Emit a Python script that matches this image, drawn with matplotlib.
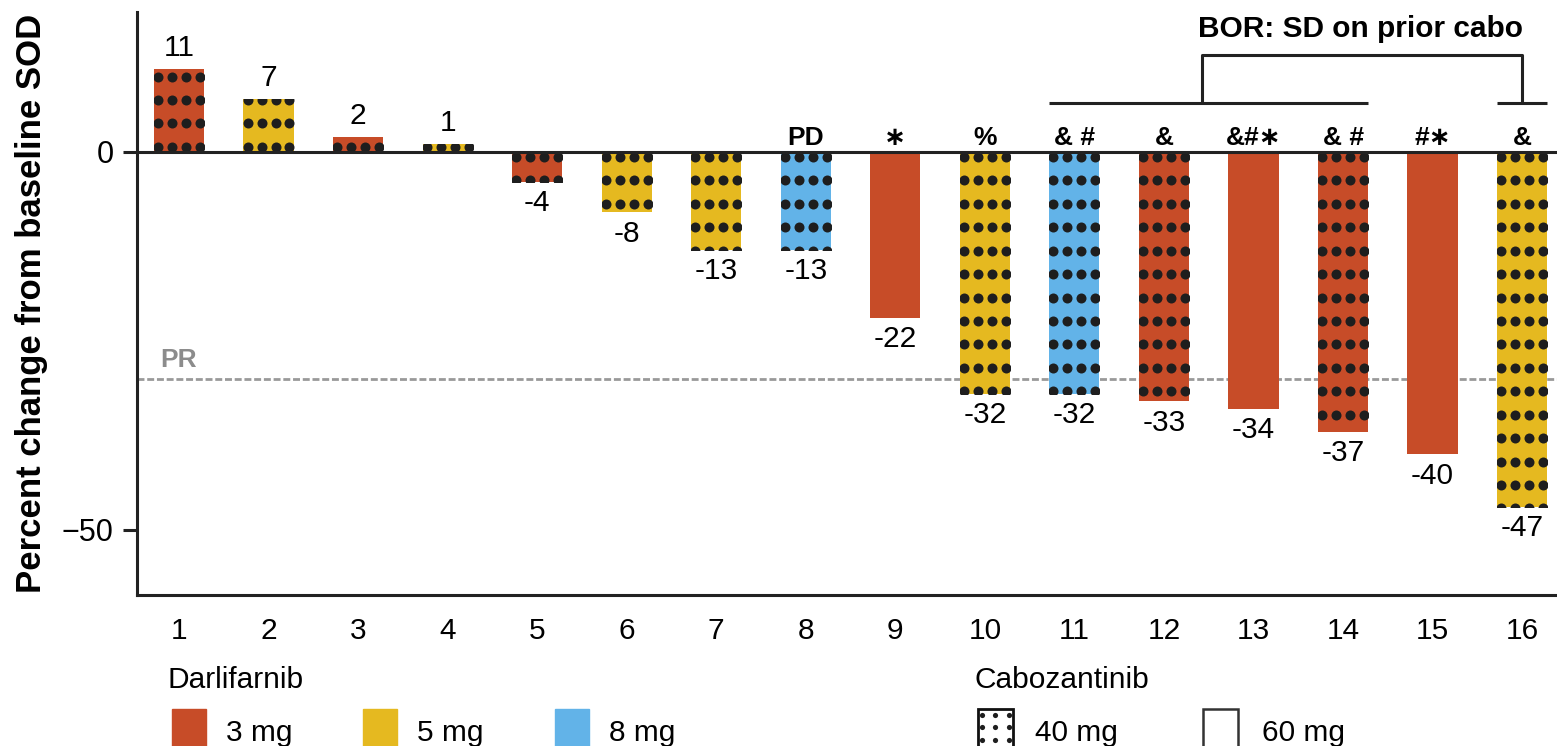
import matplotlib.pyplot as plt
from matplotlib.patches import Rectangle

plt.rcParams['font.family'] = ['Liberation Sans', 'DejaVu Sans']

# data
patients = list(range(1, 17))
change = [11, 7, 2, 1, -4, -8, -13, -13, -22, -32, -32, -33, -34, -37, -40, -47]
dose_mg = [3, 5, 3, 5, 3, 5, 5, 8, 3, 5, 8, 3, 3, 3, 3, 5]
cabo_mg = [40, 40, 40, 40, 40, 40, 40, 40, 60, 40, 40, 40, 60, 40, 60, 40]
marks = ['', '', '', '', '', '', '', 'PD', '∗', '%', '& #', '&', '&#∗', '& #', '#∗', '&']
pr_line = -30
bor_group = [11, 14]      # patients under the long bracket
bor_single = 16

dose_colors = {3: '#C74C28', 5: '#E5B920', 8: '#62B3E8'}
dot_color = '#1E1E1E'
axis_color = '#222222'
bar_w = 0.56

fig = plt.figure(figsize=(15.57, 7.46), dpi=100)
ax = fig.add_axes([137/1557, 151/746, 1420/1557, 583/746])

bars = ax.bar(patients, change, width=bar_w,
              color=[dose_colors[d] for d in dose_mg], zorder=2)

# dotted fill for cabozantinib 40 mg
offsets = [-0.234, -0.078, 0.078, 0.234]
for x, v, c, patch in zip(patients, change, cabo_mg, bars):
    if c != 40:
        continue
    sign = 1 if v > 0 else -1
    xs, ys = [], []
    k = 0
    while 0.66 + 3.1 * k < abs(v) + 0.5:
        for o in offsets:
            xs.append(x + o)
            ys.append(sign * (0.66 + 3.1 * k))
        k += 1
    sc = ax.scatter(xs, ys, s=52, c=dot_color, linewidths=0, zorder=3)
    sc.set_clip_path(patch)

# value labels
for x, v in zip(patients, change):
    if v >= 0:
        ax.annotate(str(v), (x, v), xytext=(0, 9.5), textcoords='offset points',
                    ha='center', va='baseline', fontsize=21.5)
    else:
        ax.annotate(str(v), (x, v), xytext=(0, -21), textcoords='offset points',
                    ha='center', va='baseline', fontsize=21.5)

# markers above zero line
for x, m in zip(patients, marks):
    if m:
        ax.text(x, 0.95, m, ha='center', va='baseline', fontsize=19,
                fontweight='bold')

# zero and PR lines
ax.axhline(0, color=axis_color, lw=2.2, zorder=4)
ax.axhline(pr_line, color='#999999', lw=2, dashes=(2.5, 1), zorder=1)
ax.text(0.79, pr_line + 1.5, 'PR', color='#8C8C8C', fontsize=19,
        fontweight='bold', va='baseline')

# BOR bracket
lo, hi = 6.48, 12.83
gx0 = bor_group[0] - bar_w / 2
gx1 = bor_group[1] + bar_w / 2
mid = 12.42
kw = dict(color=axis_color, lw=2.2, clip_on=False, solid_capstyle='butt')
ax.plot([gx0, gx1], [lo, lo], **kw)
ax.plot([bor_single - bar_w / 2, bor_single + bar_w / 2], [lo, lo], **kw)
ax.plot([mid, mid, bor_single, bor_single], [lo, hi, hi, lo], **kw)
ax.text(14.2, 15.2, 'BOR: SD on prior cabo', ha='center', va='baseline',
        fontsize=21.5, fontweight='bold')

# axes styling
ax.set_xlim(0.531, 16.39)
ax.set_ylim(-58.6, 18.5)
ax.set_xticks(patients)
ax.set_yticks([-50, 0])
ax.tick_params(axis='x', length=0, pad=16, labelsize=21.5)
ax.tick_params(axis='y', length=10, width=2.2, color=axis_color, pad=7,
               labelsize=22)
for s in ['top', 'right']:
    ax.spines[s].set_visible(False)
for s in ['left', 'bottom']:
    ax.spines[s].set_linewidth(2.2)
    ax.spines[s].set_color(axis_color)
ax.set_ylabel('Percent change from baseline SOD', fontsize=25,
              fontweight='bold', labelpad=10)

# legend drawn in pixel coordinates
lg = fig.add_axes([0, 0, 1, 151/746])
lg.set_xlim(0, 1557)
lg.set_ylim(151, 0)
lg.axis('off')

lg.text(168, 93, 'Darlifarnib', fontsize=21.5, va='baseline')
for x0, d in zip([172, 363, 555], [3, 5, 8]):
    lg.add_patch(Rectangle((x0, 709 - 595), 34, 40, color=dose_colors[d],
                           clip_on=False))
    lg.text(x0 + 54, 741 - 595, f'{d} mg', fontsize=21.5, va='baseline')

lg.text(975, 93, 'Cabozantinib', fontsize=21.5, va='baseline')
lg.add_patch(Rectangle((978, 709 - 595), 35, 40, facecolor='white',
                       edgecolor='#111111', lw=2))
dx, dy = [], []
for yy in [715, 727, 740]:
    for xx in [982, 995, 1009]:
        dx.append(xx)
        dy.append(yy - 595)
lg.scatter(dx, dy, s=14, c=dot_color, linewidths=0)
lg.text(1035, 741 - 595, '40 mg', fontsize=21.5, va='baseline')
lg.add_patch(Rectangle((1203, 709 - 595), 35, 40, facecolor='white',
                       edgecolor='#333333', lw=1.8))
lg.text(1262, 741 - 595, '60 mg', fontsize=21.5, va='baseline')

fig.savefig('out.png', dpi=100)
